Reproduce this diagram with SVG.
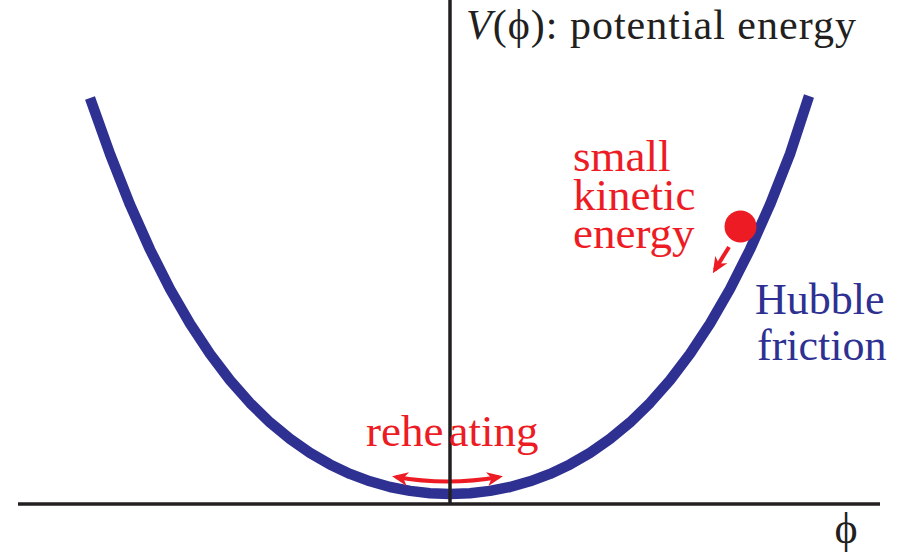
<svg xmlns="http://www.w3.org/2000/svg" width="900" height="553" viewBox="0 0 900 553">
  <style>
    .axis { stroke: #231f20; stroke-width: 3.5; fill: none; }
    .curve { stroke: #2e3192; stroke-width: 10.5; fill: none; stroke-linejoin: round; stroke-linecap: butt; }
    .red { stroke: #ed1c24; stroke-width: 4; fill: none; }
    text { font-family: 'Liberation Serif', 'Times New Roman', 'DejaVu Serif', serif; }
    .lblk { fill: #231f20; font-size: 42px; }
    .lred { fill: #ed1c24; font-size: 45px; }
    .lblue { fill: #2e3192; font-size: 44px; }
  </style>
  <defs>
    <marker id="ah" viewBox="0 0 16 14" refX="12" refY="7" markerWidth="16" markerHeight="14" markerUnits="userSpaceOnUse" orient="auto-start-reverse">
      <path d="M0,0 L16,7 L0,14 L4.5,7 z" fill="#ed1c24"/>
    </marker>
  </defs>
  <rect width="900" height="553" fill="#ffffff"/>

  <g id="potential-curve">
    <path class="curve" d="M90,98 L110,154 L130,204.7 L150,249.5 L170,289 L190,323.7 L210,353.9 L230,380.2 L250,402.9 L270,422.4 L290,438.9 L310,452.9 L330,464.4 L350,473.9 L370,481.3 L390,487 L410,490.9 L430,493.2 L450,494 L470,493.2 L490,490.9 L510,487 L530,481.3 L550,473.9 L570,464.4 L590,452.9 L610,438.9 L630,422.4 L650,402.9 L670,380.2 L690,353.9 L710,323.7 L730,289 L750,249.5 L770,204.7 L790,154 L809,96"/>
  </g>

  <g id="ball">
    <circle cx="740.5" cy="226.5" r="16" fill="#ed1c24"/>
  </g>

  <g id="connectors">
    <path class="red" d="M729,247 L714.9,269.8" marker-end="url(#ah)"/>
    <path class="red" d="M396,477 Q447.5,486 499,477" marker-start="url(#ah)" marker-end="url(#ah)"/>
  </g>

  <g id="axes">
    <line class="axis" x1="450" y1="0" x2="450" y2="503"/>
    <line class="axis" x1="18" y1="504" x2="880" y2="504"/>
  </g>

  <g id="label-potential">
    <text class="lblk" x="466" y="39" letter-spacing="1"><tspan font-style="italic">V</tspan>(ϕ): potential energy</text>
  </g>
  <g id="label-phi">
    <text class="lblk" x="846" y="543" text-anchor="middle" style="font-size:44px">ϕ</text>
  </g>
  <g id="label-kinetic">
    <text class="lred" x="573" y="171">small</text>
    <text class="lred" x="573" y="210">kinetic</text>
    <text class="lred" x="573" y="248">energy</text>
  </g>
  <g id="label-reheating">
    <text class="lred" x="366" y="446">rehe<tspan dx="5">ating</tspan></text>
  </g>
  <g id="label-hubble">
    <text class="lblue" x="755" y="314">Hubble</text>
    <text class="lblue" x="757" y="360">friction</text>
  </g>
</svg>
